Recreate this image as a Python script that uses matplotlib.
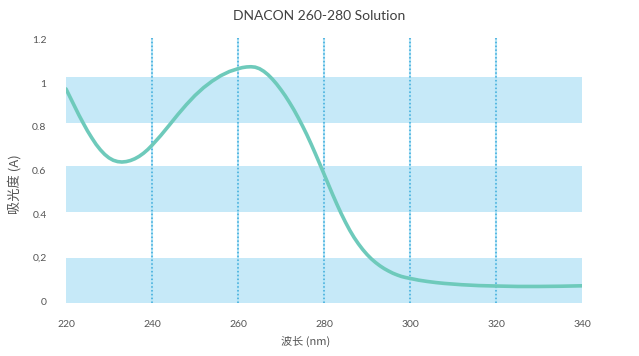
import matplotlib
matplotlib.use("Agg")
import matplotlib.pyplot as plt

title = "DNACON 260-280 Solution"
xlabel = "波长 (nm)"
ylabel = "吸光度 (A)"

wavelength = [220, 221, 222, 223, 224, 225, 226, 227, 228, 229, 230, 231, 232, 233, 234,
              235, 236, 237, 238, 239, 240, 242, 244, 246, 248, 250, 252, 254, 256, 258,
              260, 261, 262, 263, 264, 265, 266, 267, 268, 269, 270, 271, 272, 273, 274,
              275, 276, 277, 278, 279, 280, 281, 282, 283, 284, 285, 286, 287, 288, 289,
              290, 291, 292, 293, 294, 295, 296, 297, 298, 299, 300, 302, 304, 306, 308,
              310, 312, 314, 316, 318, 320, 325, 330, 335, 340]
absorbance = [0.975, 0.935, 0.895, 0.855, 0.818, 0.782, 0.75, 0.72, 0.695, 0.674, 0.658,
              0.647, 0.641, 0.639, 0.641, 0.646, 0.654, 0.665, 0.679, 0.696, 0.716, 0.76,
              0.808, 0.857, 0.903, 0.945, 0.981, 1.011, 1.036, 1.055, 1.068, 1.073, 1.076,
              1.077, 1.075, 1.068, 1.056, 1.04, 1.02, 0.997, 0.971, 0.943, 0.912, 0.879,
              0.843, 0.805, 0.765, 0.722, 0.677, 0.631, 0.584, 0.537, 0.49, 0.445, 0.402,
              0.362, 0.325, 0.292, 0.263, 0.237, 0.214, 0.194, 0.177, 0.162, 0.149, 0.138,
              0.128, 0.12, 0.113, 0.108, 0.104, 0.096, 0.09, 0.085, 0.081, 0.078, 0.075,
              0.073, 0.071, 0.07, 0.069, 0.067, 0.067, 0.068, 0.07]

xticks = [220, 240, 260, 280, 300, 320, 340]
yticks = [0, 0.2, 0.4, 0.6, 0.8, 1.0, 1.2]
ytick_labels = ["0", "0,2", "0.4", "0.6", "0.8", "1", "1.2"]
vlines = [240, 260, 280, 300, 320]
bands = [(-0.01, 0.20), (0.41, 0.62), (0.82, 1.03)]

fig = plt.figure(figsize=(6.39, 3.56), dpi=100)
ax = fig.add_axes([66 / 639, 0.1483, 516 / 639, 0.7455])
ax.set_xlim(220, 340)
ax.set_ylim(-0.01, 1.21)

for lo, hi in bands:
    ax.axhspan(lo, hi, color="#c6e9f8", lw=0, zorder=0)
for v in vlines:
    ax.axvline(v, color="#b8e6f7", lw=1.5, zorder=1)
    ax.axvline(v, color="#3daadb", lw=1.1, ls=(0, (1, 1.5)), zorder=1)

ax.plot(wavelength, absorbance, color="#6ecabb", lw=2.6, solid_capstyle="round",
        solid_joinstyle="round", zorder=3)

for s in ax.spines.values():
    s.set_visible(False)
ax.set_xticks(xticks)
ax.set_xticklabels([str(t) for t in xticks], fontfamily="Lato", fontsize=7.5, color="#555555")
ax.set_yticks(yticks)
ax.set_yticklabels(ytick_labels, fontfamily="Lato", fontsize=7.5, color="#555555")
ax.tick_params(length=0)
ax.tick_params(axis="y", pad=14)
ax.tick_params(axis="x", pad=12)

fig.text(0.5, 0.955, title, ha="center", va="center", fontfamily="Lato", fontsize=10, color="#404040")
fig.text(306 / 639, 1 - 341 / 356, xlabel, ha="center", va="center",
         fontfamily=["Noto Sans CJK SC", "DejaVu Sans"], fontsize=8, color="#555555")
fig.text(15 / 639, 1 - 184 / 356, ylabel, ha="center", va="center", rotation=90,
         fontfamily=["Noto Sans CJK SC", "DejaVu Sans"], fontsize=9.5, color="#555555")

fig.savefig("out.png", dpi=100)
